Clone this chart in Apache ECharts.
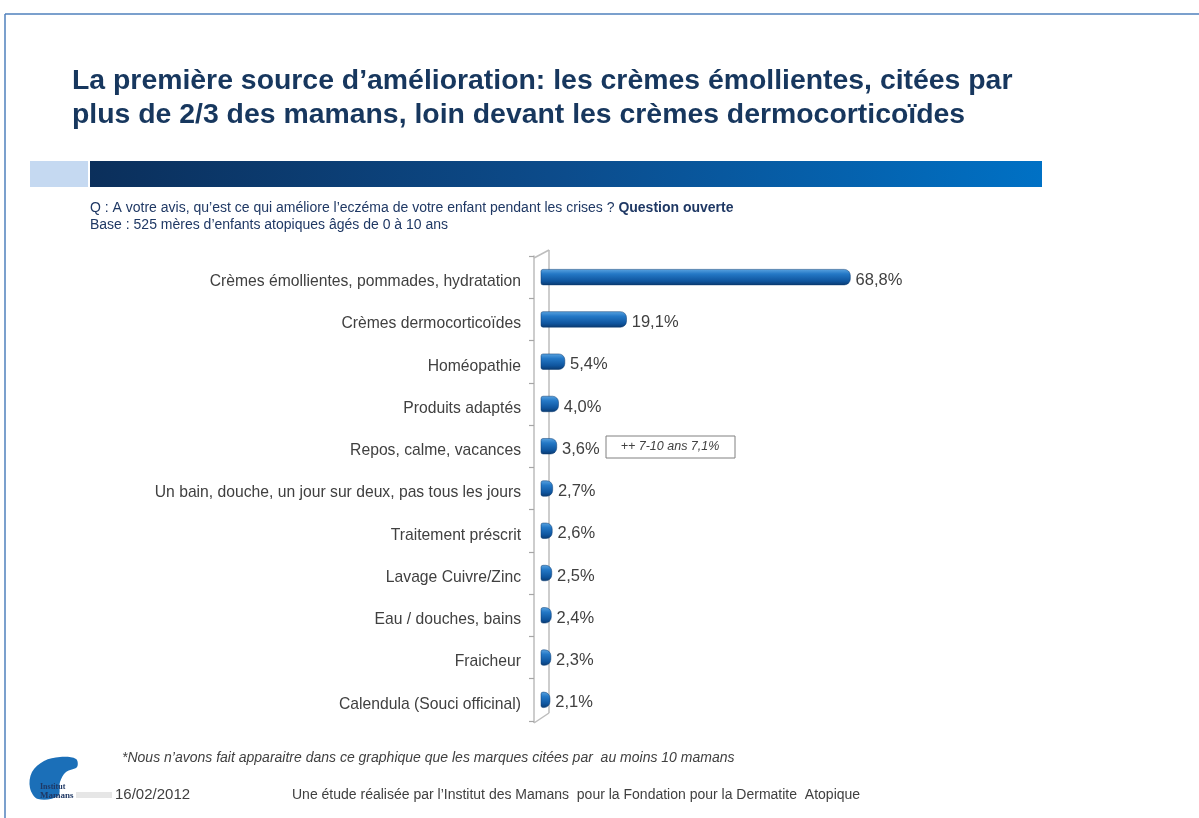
<!DOCTYPE html>
<html><head><meta charset="utf-8">
<script src="https://cdn.jsdelivr.net/npm/echarts@6/dist/echarts.min.js"></script>
<style>html,body{margin:0;padding:0;background:#fff}#c{width:1199px;height:818px}</style>
</head><body><div id="c"></div>
<script>
const categories = [
  "Crèmes émollientes, pommades, hydratation",
  "Crèmes dermocorticoïdes",
  "Homéopathie",
  "Produits adaptés",
  "Repos, calme, vacances",
  "Un bain, douche, un jour sur deux, pas tous les jours",
  "Traitement préscrit",
  "Lavage Cuivre/Zinc",
  "Eau / douches, bains",
  "Fraicheur",
  "Calendula (Souci officinal)"
];
const values = [68.8, 19.1, 5.4, 4.0, 3.6, 2.7, 2.6, 2.5, 2.4, 2.3, 2.1];
const titleLines = [
  "La première source d’amélioration: les crèmes émollientes, citées par",
  "plus de 2/3 des mamans, loin devant les crèmes dermocorticoïdes"
];
const questionText = "Q : A votre avis, qu’est ce qui améliore l’eczéma de votre enfant pendant les crises ? ";
const questionBold = "Question ouverte";
const baseText = "Base : 525 mères d’enfants atopiques âgés de 0 à 10 ans";
const annotation = "++ 7-10 ans 7,1%";
const noteText = "*Nous n’avons fait apparaitre dans ce graphique que les marques citées par  au moins 10 mamans";
const dateText = "16/02/2012";
const sourceText = "Une étude réalisée par l’Institut des Mamans  pour la Fondation pour la Dermatite  Atopique";

const chart = echarts.init(document.getElementById('c'));
const FONT = '"Liberation Sans", Arial, sans-serif';
const GRAY = '#bdbdbd';
const barGrad = {type:'linear',x:0,y:0,x2:0,y2:1,colorStops:[
  {offset:0,color:'#5aa3e0'},{offset:0.3,color:'#2478c6'},{offset:0.75,color:'#0f559e'},{offset:1,color:'#0a3a70'}
]};
const bandGrad = {type:'linear',x:0,y:0,x2:1,y2:0,colorStops:[
  {offset:0,color:'#0b2f5b'},{offset:0.5,color:'#0c4c8c'},{offset:1,color:'#0071c5'}
]};
function txt(x,y,text,font,fill,extra){
  return {type:'text',x:x,y:y,style:Object.assign({text:text,font:font,fill:fill,verticalAlign:'top'},extra||{})};
}
chart.setOption({
  animation:false,
  grid:{left:534,top:256,width:367,height:465,containLabel:false},
  xAxis:{type:'value',min:-1.5,max:80,show:false},
  yAxis:{type:'category',data:categories,inverse:true,
    axisLine:{show:true,onZero:false,lineStyle:{color:GRAY,width:1.5}},
    axisTick:{show:true,inside:false,length:5,lineStyle:{color:'#a6a6a6',width:1.2}},
    axisLabel:{color:'#404040',fontSize:15.7,fontFamily:FONT,margin:13,verticalAlign:'top',lineHeight:9}},
  series:[{type:'bar',data:values,barWidth:16,z:5,
    itemStyle:{color:barGrad,borderRadius:[2,6,6,2],borderColor:'#0a3a70',borderWidth:0.5},
    label:{show:true,position:'right',distance:5,offset:[0,3],color:'#404040',fontSize:16.5,fontFamily:FONT,
      formatter:p=>p.value.toFixed(1).replace('.',',')+'%'}}],
  graphic:[
    {type:'line',shape:{x1:5,y1:14,x2:1199,y2:14},style:{stroke:'#4f81bd',lineWidth:1.5}},
    {type:'line',shape:{x1:5,y1:14,x2:5,y2:818},style:{stroke:'#4f81bd',lineWidth:1.5}},
    txt(72,67,titleLines[0],'bold 28.4px '+FONT,'#17375e'),
    txt(72,101,titleLines[1],'bold 28.4px '+FONT,'#17375e'),
    {type:'rect',shape:{x:30,y:161,width:58,height:26},style:{fill:'#c5d9f1'}},
    {type:'rect',shape:{x:90,y:161,width:952,height:26},style:{fill:bandGrad}},
    {type:'text',x:90,y:201,style:{verticalAlign:'top',rich:{n:{font:'14px '+FONT,fill:'#1f3864'},b:{font:'bold 14px '+FONT,fill:'#1f3864'}},text:'{n|'+questionText+'}{b|'+questionBold+'}'}},
    txt(90,218,baseText,'14px '+FONT,'#1f3864'),
    {type:'line',z:1,shape:{x1:549,y1:250,x2:549,y2:713},style:{stroke:GRAY,lineWidth:1.5}},
    {type:'line',shape:{x1:534,y1:258,x2:549,y2:250},style:{stroke:GRAY,lineWidth:1.5}},
    {type:'line',shape:{x1:534,y1:723,x2:549,y2:713},style:{stroke:GRAY,lineWidth:1.5}},
    {type:'line',shape:{x1:534,y1:721,x2:534,y2:723},style:{stroke:GRAY,lineWidth:1.5}},
    {type:'rect',shape:{x:606,y:436,width:129,height:22},style:{fill:'#fff',stroke:'#808080',lineWidth:1}},
    {type:'text',x:670,y:447,style:{text:annotation,font:'italic 12.5px '+FONT,fill:'#404040',align:'center',verticalAlign:'middle'}},
    txt(122,751,noteText,'italic 14px '+FONT,'#404040'),
    {type:'polygon',shape:{smooth:0.35,points:[[38,799],[30,788],[32,772],[44,761],[60,757],[76,759],[77,767],[66,772],[60,782],[58,796]]},style:{fill:'#1b6fb8'}},
    txt(40,783,'Institut','bold 8px "Liberation Serif", serif','#1f3864'),
    txt(40,791,'Mamans','bold 9px "Liberation Serif", serif','#1f3864'),
    {type:'rect',shape:{x:76,y:792,width:36,height:6},style:{fill:'#e6e6e6'}},
    txt(115,787,dateText,'15px '+FONT,'#404040'),
    txt(292,788,sourceText,'14px '+FONT,'#404040')
  ]
});
</script></body></html>
